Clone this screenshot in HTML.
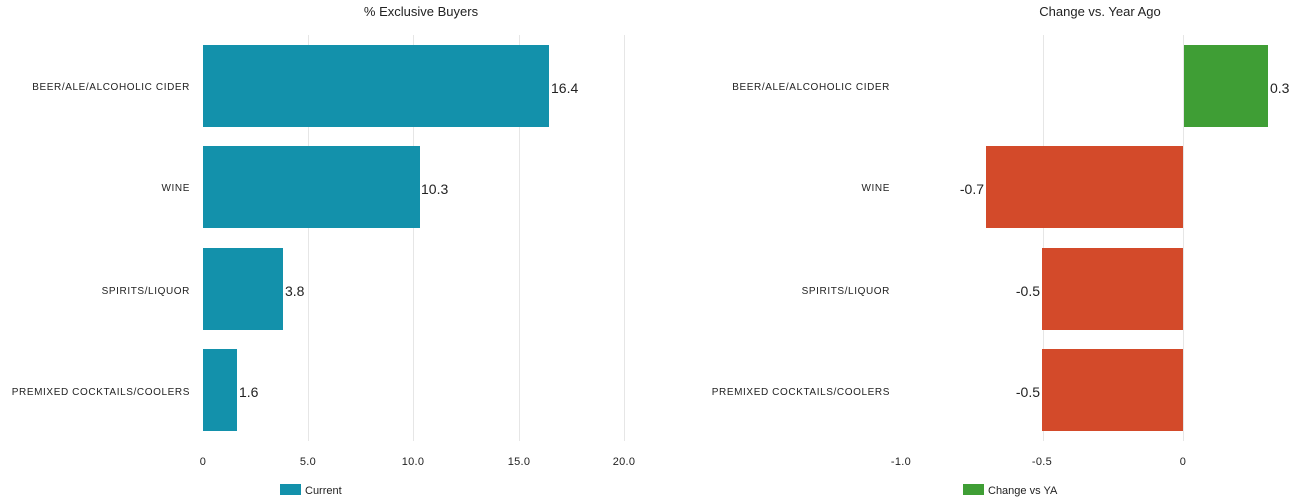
<!DOCTYPE html>
<html><head><style>body{margin:0;background:#fff}svg{display:block}text{font-family:"Liberation Sans",sans-serif;fill:#222}</style></head>
<body>
<svg width="1296" height="502" xmlns="http://www.w3.org/2000/svg">
<g stroke="#e6e6e6" stroke-width="1">
<line x1="308.5" y1="35" x2="308.5" y2="441"/><line x1="413.5" y1="35" x2="413.5" y2="441"/><line x1="519.5" y1="35" x2="519.5" y2="441"/><line x1="624.5" y1="35" x2="624.5" y2="441"/>
<line x1="1043.5" y1="35" x2="1043.5" y2="441"/><line x1="1183.5" y1="35" x2="1183.5" y2="441"/>
</g>
<text x="421" y="16" font-size="13" text-anchor="middle">% Exclusive Buyers</text>
<text x="1100" y="16" font-size="13" text-anchor="middle">Change vs. Year Ago</text>
<g font-size="10" text-anchor="end" letter-spacing="0.6">
<text x="190" y="90">BEER/ALE/ALCOHOLIC CIDER</text><text x="190" y="191">WINE</text><text x="190" y="294">SPIRITS/LIQUOR</text><text x="190" y="395">PREMIXED COCKTAILS/COOLERS</text>
<text x="890" y="90">BEER/ALE/ALCOHOLIC CIDER</text><text x="890" y="191">WINE</text><text x="890" y="294">SPIRITS/LIQUOR</text><text x="890" y="395">PREMIXED COCKTAILS/COOLERS</text>
</g>
<g fill="#1391ab">
<rect x="203" y="45" width="346" height="82"/><rect x="203" y="146" width="217" height="82"/><rect x="203" y="248" width="80" height="82"/><rect x="203" y="349" width="34" height="82"/>
</g>
<g font-size="14">
<text x="551" y="93">16.4</text><text x="421" y="194">10.3</text><text x="285" y="296">3.8</text><text x="239" y="397">1.6</text>
</g>
<rect x="1184" y="45" width="84" height="82" fill="#3f9e35"/>
<g fill="#d34a2a">
<rect x="986" y="146" width="197" height="82"/><rect x="1042" y="248" width="141" height="82"/><rect x="1042" y="349" width="141" height="82"/>
</g>
<g font-size="14">
<text x="1270" y="93">0.3</text>
<text x="984" y="194" text-anchor="end">-0.7</text><text x="1040" y="296" text-anchor="end">-0.5</text><text x="1040" y="397" text-anchor="end">-0.5</text>
</g>
<g font-size="11" text-anchor="middle" letter-spacing="0.3">
<text x="203" y="465">0</text><text x="308" y="465">5.0</text><text x="413" y="465">10.0</text><text x="519" y="465">15.0</text><text x="624" y="465">20.0</text>
<text x="901" y="465">-1.0</text><text x="1042" y="465">-0.5</text><text x="1183" y="465">0</text>
</g>
<rect x="280" y="484" width="21" height="11" fill="#1391ab"/>
<text x="305" y="494" font-size="11">Current</text>
<rect x="963" y="484" width="21" height="11" fill="#3f9e35"/>
<text x="988" y="494" font-size="11">Change vs YA</text>
</svg>
</body></html>
